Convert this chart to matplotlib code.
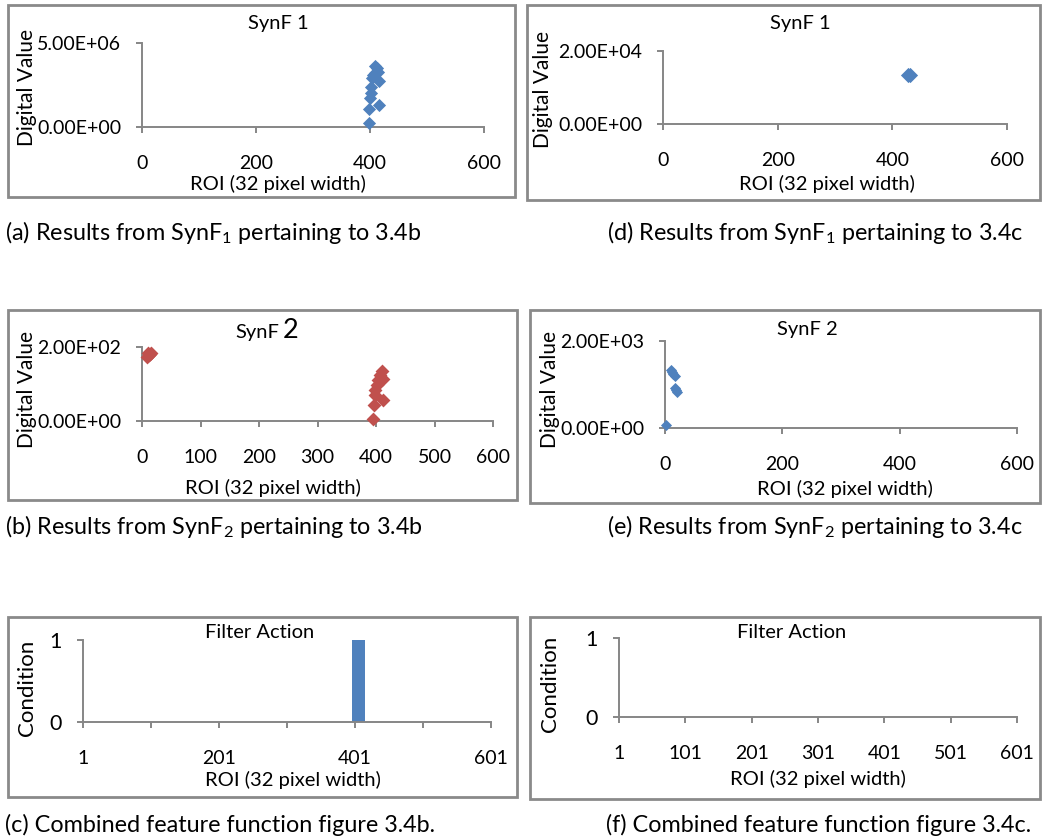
import matplotlib
matplotlib.use("Agg")
import matplotlib.pyplot as plt
from matplotlib.patches import Rectangle
from matplotlib.ticker import FuncFormatter

plt.rcParams['font.family'] = ['Lato', 'DejaVu Sans']
plt.rcParams['mathtext.fontset'] = 'custom'
plt.rcParams['mathtext.rm'] = 'Lato'
plt.rcParams['mathtext.it'] = 'Lato:italic'
plt.rcParams['mathtext.bf'] = 'Lato:bold'

# ---------------- data ----------------
# (a) SynF1, figure 3.4b
synf1_b_x = [398, 399, 416, 400, 402, 402, 416, 404, 406, 409, 409, 412, 414]
synf1_b_y = [0.22e6, 1.07e6, 1.3e6, 1.7e6, 2.04e6, 2.36e6, 2.74e6, 2.94e6, 3.1e6, 3.23e6, 3.63e6, 3.53e6, 3.3e6]
# (d) SynF1, figure 3.4c
synf1_c_x = [428, 430]
synf1_c_y = [1.33e4, 1.34e4]
# (b) SynF2, figure 3.4b
synf2_b_x = [8, 10, 12, 14, 15, 395, 397, 412, 398, 399, 401, 404, 412, 407, 411]
synf2_b_y = [174, 183, 178, 180, 185, 5, 43, 57, 70, 84, 97, 111, 113, 124, 136]
# (e) SynF2, figure 3.4c
synf2_c_x = [2, 10, 12, 14, 17, 17, 19, 21]
synf2_c_y = [80, 1330, 1290, 1250, 1200, 910, 870, 830]
# (c)/(f) Filter action: ROIs where condition == 1
filter_on_b = [397, 398, 399, 400, 401, 402, 403, 404, 405, 406,
               407, 408, 409, 410, 411, 412, 413, 414, 415]
filter_on_c = []

scatter_xticks = [0, 200, 400, 600]
scatter_xticks_b = [0, 100, 200, 300, 400, 500, 600]
bar_xticks = [1, 101, 201, 301, 401, 501, 601]
bar_xlabels_c = ['1', '', '201', '', '401', '', '601']
bar_xlabels_f = ['1', '101', '201', '301', '401', '501', '601']

captions = {
    'a': "(a) Results from SynF$_1$ pertaining to 3.4b",
    'd': "(d) Results from SynF$_1$ pertaining to 3.4c",
    'b': "(b) Results from SynF$_2$ pertaining to 3.4b",
    'e': "(e) Results from SynF$_2$ pertaining to 3.4c",
    'c': "(c) Combined feature function figure 3.4b.",
    'f': "(f) Combined feature function figure 3.4c.",
}

BLUE = '#4F81BD'
RED = '#C0504D'
GRAY = '#868686'
W, H = 1045, 840
FS = 14.5
TICK_FS = 14
CAP_FS = 16.8

fig = plt.figure(figsize=(W / 100, H / 100), dpi=100)


def fx(x):
    return x / W


def fy(y):
    return 1 - y / H


def box(x0, y0, x1, y1):
    fig.patches.append(Rectangle((fx(x0), fy(y1)), (x1 - x0) / W, (y1 - y0) / H,
                                 transform=fig.transFigure, fill=False,
                                 edgecolor='#8a8a8a', lw=2.0, zorder=0))


def make_ax(x0, y0, x1, y1):
    ax = fig.add_axes([fx(x0), fy(y1), (x1 - x0) / W, (y1 - y0) / H])
    ax.patch.set_alpha(0)
    for s in ['top', 'right']:
        ax.spines[s].set_visible(False)
    for s in ['left', 'bottom']:
        ax.spines[s].set_color(GRAY)
        ax.spines[s].set_linewidth(1.4)
    ax.tick_params(axis='both', direction='out', length=4, width=1.4, color=GRAY,
                   labelsize=TICK_FS, labelcolor='black')
    ax.tick_params(axis='x', pad=16)
    ax.tick_params(axis='y', pad=11)
    return ax


def txt(x, y, s, size=FS, rot=0, ha='center', va='center'):
    fig.text(fx(x), fy(y), s, fontsize=size, rotation=rot, ha=ha, va=va)


sci = FuncFormatter(lambda v, p: '{:.2E}'.format(v))

# ---- (a)
box(8, 5, 515, 197)
ax = make_ax(142, 43, 484, 127)
ax.scatter(synf1_b_x, synf1_b_y, marker='D', s=45, color=BLUE, linewidths=0, clip_on=False, zorder=3)
ax.set_xlim(0, 600); ax.set_ylim(0, 5e6)
ax.set_xticks(scatter_xticks); ax.set_yticks([0, 5e6]); ax.yaxis.set_major_formatter(sci)
txt(278, 24, 'SynF 1'); txt(278, 184, 'ROI (32 pixel width)'); txt(27, 87, 'Digital Value', rot=90, size=15)

# ---- (d)
box(527, 5, 1040, 200)
ax = make_ax(663, 51, 1007, 124)
ax.scatter(synf1_c_x, synf1_c_y, marker='D', s=60, color=BLUE, linewidths=0, clip_on=False, zorder=3)
ax.set_xlim(0, 600); ax.set_ylim(0, 2e4)
ax.set_xticks(scatter_xticks); ax.set_yticks([0, 2e4]); ax.yaxis.set_major_formatter(sci)
txt(800, 24, 'SynF 1'); txt(827, 184, 'ROI (32 pixel width)'); txt(543, 90, 'Digital Value', rot=90, size=15)

# ---- (b)
box(8, 310, 517, 500)
ax = make_ax(142, 347, 493, 421)
ax.scatter(synf2_b_x, synf2_b_y, marker='D', s=50, color=RED, linewidths=0, clip_on=False, zorder=3)
ax.set_xlim(0, 600); ax.set_ylim(0, 200)
ax.set_xticks(scatter_xticks_b); ax.set_yticks([0, 200]); ax.yaxis.set_major_formatter(sci)
txt(279, 333, 'SynF', ha='right'); txt(283, 331, '2', size=FS * 1.35, ha='left')
txt(273, 488, 'ROI (32 pixel width)'); txt(27, 389, 'Digital Value', rot=90, size=15)

# ---- (e)
box(530, 310, 1040, 503)
ax = make_ax(665, 341, 1017, 428)
ax.scatter(synf2_c_x, synf2_c_y, marker='D', s=32, color=BLUE, linewidths=0, clip_on=False, zorder=3)
ax.set_xlim(0, 600); ax.set_ylim(0, 2000)
ax.set_xticks(scatter_xticks); ax.set_yticks([0, 2000]); ax.yaxis.set_major_formatter(sci)
txt(807, 330, 'SynF 2'); txt(845, 489, 'ROI (32 pixel width)'); txt(550, 390, 'Digital Value', rot=90, size=15)

# ---- (c)
box(8, 617, 517, 797)
ax = make_ax(83, 640, 491, 722)
ax.bar(filter_on_b, [1] * len(filter_on_b), width=1.0, color=BLUE, linewidth=0)
ax.set_xlim(1, 601); ax.set_ylim(0, 1)
ax.set_xticks(bar_xticks); ax.set_xticklabels(bar_xlabels_c); ax.set_yticks([0, 1])
ax.tick_params(axis='y', labelsize=15.5)
txt(260, 633, 'Filter Action'); txt(293, 780, 'ROI (32 pixel width)'); txt(27, 688, 'Condition', rot=90, size=16)

# ---- (f)
box(530, 617, 1040, 799)
ax = make_ax(619, 638, 1017, 717)
ax.bar(filter_on_c, [1] * len(filter_on_c), width=1.0, color=BLUE, linewidth=0)
ax.set_xlim(1, 601); ax.set_ylim(0, 1)
ax.set_xticks(bar_xticks); ax.set_xticklabels(bar_xlabels_f); ax.set_yticks([0, 1])
ax.tick_params(axis='y', labelsize=15.5)
txt(792, 633, 'Filter Action'); txt(818, 779, 'ROI (32 pixel width)'); txt(550, 684, 'Condition', rot=90, size=16)

# ---- captions
txt(5, 232, captions['a'], size=CAP_FS, ha='left')
txt(607, 232, captions['d'], size=CAP_FS, ha='left')
txt(5, 527, captions['b'], size=CAP_FS, ha='left')
txt(607, 527, captions['e'], size=CAP_FS, ha='left')
txt(5, 825, captions['c'], size=CAP_FS, ha='left')
txt(606, 825, captions['f'], size=CAP_FS, ha='left')

fig.savefig('out.png', dpi=100, facecolor='white')
